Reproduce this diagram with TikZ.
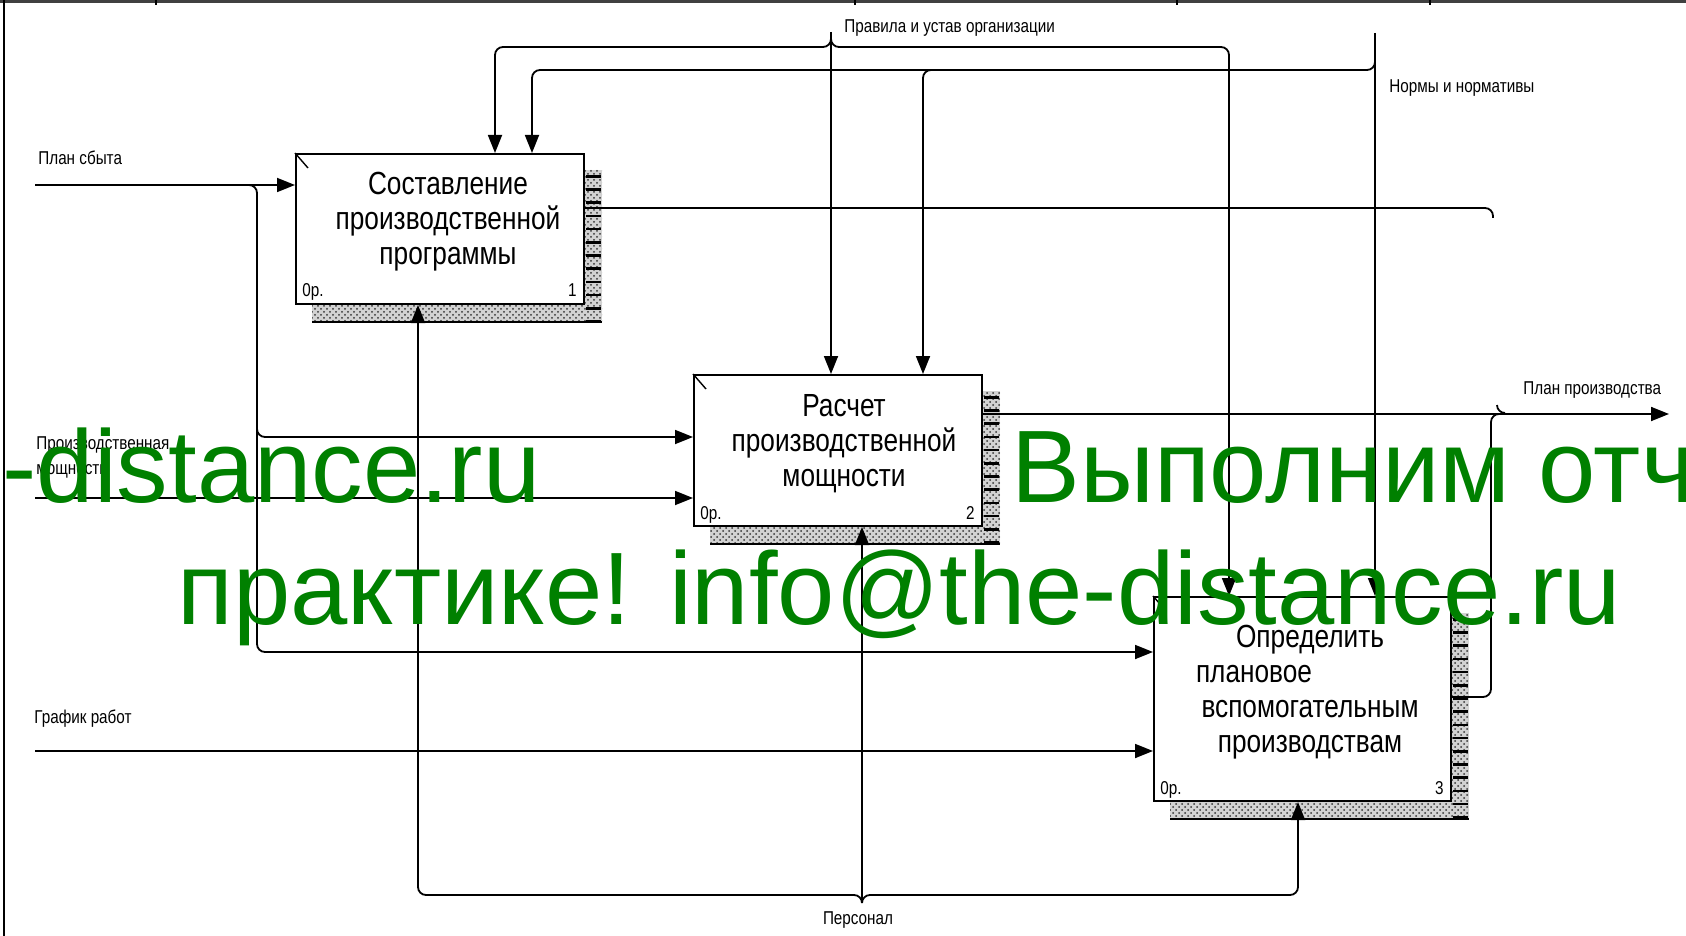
\documentclass[tikz,border=0pt]{standalone}
\usepackage{fontspec}
\setmainfont{Liberation Sans}[FakeStretch=0.82]
\newfontfamily\wmfont{Liberation Sans}
\usetikzlibrary{arrows.meta,calc,patterns}
\definecolor{wmgreen}{RGB}{0,128,0}
\tikzset{
  func/.style={draw, line width=1pt, fill=white, inner sep=0pt},
  boxtext/.style={align=center, font=\fontsize{16}{17.5}\selectfont},
  lbl/.style={font=\fontsize{9.3}{12.5}\selectfont, inner sep=0pt},
  arr/.style={line width=0.9pt, -{Triangle[length=9pt,width=7pt]}},
  link/.style={line width=0.9pt},
  rc/.style={rounded corners=4pt},
  hatch/.style={fill=gray!35, postaction={pattern=crosshatch dots, pattern color=gray!40!black}},
  wm/.style={font=\wmfont\fontsize{51.5}{51.5}\selectfont, text=wmgreen, inner sep=0pt}
}
\begin{document}
\begin{tikzpicture}[x=0.5pt, y=-0.5pt]
    \useasboundingbox (0,0) rectangle (1686,936);
    % Frame of the sheet
    \draw [line width=1.5pt, gray!50!black] (0,1.5) -- (1686,1.5);
    \foreach \x in {156,855,1177,1430}
      \draw [line width=0.7pt] (\x,0) -- (\x,5);
    \draw [line width=1pt] (4,0) -- (4,936);
    % Function boxes
    \node [func, minimum width=144pt, minimum height=75pt] (b1) at (440,229) {};
    \node [func, minimum width=144pt, minimum height=75.5pt] (b2) at (838,450.5) {};
    \node [func, minimum width=148.5pt, minimum height=102pt] (b3) at (1302.5,699) {};
    \node [boxtext] (t1) at ([xshift=4pt,yshift=3.5pt]b1.center) {Составление\\производственной\\программы};
    \node [boxtext] (t2) at ([xshift=3pt,yshift=3.5pt]b2.center) {Расчет\\производственной\\мощности};
    \node [boxtext] (t3) at ([xshift=3.75pt,yshift=3.5pt]b3.center) {Определить\\плановое\hspace*{56pt}\null\\вспомогательным\\производствам};
    % Shadows, corner marks and numbers
    \foreach \b/\n in {b1/1,b2/2,b3/3} {
      \fill [hatch] ($(\b.north east)+(0,17)$) rectangle ($(\b.south east)+(17,17)$);
      \fill [hatch] ($(\b.south west)+(17,0)$) rectangle ($(\b.south east)+(17,17)$);
      \draw [line width=7.5pt, dash pattern=on 1.3pt off 5.3pt] ($(\b.north east)+(8.5,22)$) -- ($(\b.south east)+(8.5,17)$);
      \draw [line width=1pt] ($(\b.south west)+(17,17)$) -- ($(\b.south east)+(17,17)$);
      \draw [line width=0.7pt] (\b.north west) -- ++(13,15);
      \node [lbl, anchor=base west] at ($(\b.south west)+(7,-8)$) {0р.};
      \node [lbl, anchor=base east] at ($(\b.south east)+(-8,-8)$) {\n};
    }
    % Inputs
    \coordinate (ps) at (35,185);
    \coordinate (psj) at (257,185);
    \coordinate (psb2) at (257,437);
    \coordinate (psb3) at (257,652);
    \draw [arr] (ps) -- (b1.west |- ps);
    \draw [arr, rc] ([xshift=-4.5pt]psj) -- (psj) -- (psb3) -- (b3.west |- psb3);
    \draw [arr, rc] ([yshift=6pt]psb2) -- (psb2) -- (b2.west |- psb2);
    \coordinate (pm) at (35,498);
    \draw [arr] (pm) -- (b2.west |- pm);
    \coordinate (gr) at (35,751);
    \draw [arr] (gr) -- (b3.west |- gr);
    % Controls
    \coordinate (pr) at (831,32);
    \coordinate (prf) at (831,47);
    \coordinate (prl) at (495,47);
    \coordinate (prr) at (1229,47);
    \draw [arr] (pr) -- (pr |- b2.north);
    \draw [arr, rc] ([yshift=4.5pt]prf) -- (prf) -| (prl |- b1.north);
    \draw [arr, rc] ([yshift=4.5pt]prf) -- (prf) -| (prr |- b3.north);
    \coordinate (nr) at (1375,33);
    \coordinate (nrf) at (1375,70);
    \coordinate (nl1) at (532,70);
    \coordinate (nl2) at (923,70);
    \draw [arr] (nr) -- (nr |- b3.north);
    \draw [arr, rc] ([yshift=6pt]nrf) -- (nrf) -| (nl1 |- b1.north);
    \draw [arr, rc] ([xshift=5pt]nl2) -- (nl2) -- (nl2 |- b2.north);
    % Mechanism
    \coordinate (pe) at (862,903);
    \coordinate (pef) at (862,895);
    \coordinate (pel) at (418,895);
    \coordinate (per) at (1298,895);
    \draw [arr] (pe) -- (pe |- b2.south);
    \draw [arr, rc] (pe) -- (pef) -| (pel |- b1.south);
    \draw [arr, rc] (pe) -- (pef) -| (per |- b3.south);
    % Outputs
    \coordinate (o1) at (1493,208);
    \draw [link, rc] (b1.east |- o1) -- (o1) -- ([yshift=-5pt]o1);
    \coordinate (pp) at (1669,414);
    \draw [arr] (b2.east |- pp) -- (pp);
    \coordinate (o3) at (1491,697);
    \coordinate (o3t) at (1491,414);
    \draw [link, rc] (b3.east |- o3) -- (o3) -- (o3t) -- ([xshift=8pt]o3t);
    \coordinate (cu) at (1497,405);
    \draw [link] (cu) arc [start angle=180, end angle=270, radius=4pt];
    % Arrow labels
    \node [lbl, anchor=west] (lps) at (38,158) {План сбыта};
    \node [lbl, anchor=west, align=left] (lpm) at (36,457) {Производственная\\мощность};
    \node [lbl, anchor=west] (lgr) at (34,719) {График работ};
    \node [lbl, anchor=west] (lpr) at (844,28) {Правила и устав организации};
    \node [lbl, anchor=west] (lnr) at (1389,88) {Нормы и нормативы};
    \node [lbl, anchor=west] (lpp) at (1523,390) {План производства};
    \node [lbl] (lpe) at (858,920) {Персонал};
    % Watermark
    \begin{scope}
      \clip (0,0) rectangle (1686,936);
      \node [wm, anchor=base east] (wm1) at (541,502) {-distance.ru};
      \node [wm, anchor=base west] (wm2) at (1011,502) {Выполним отчет};
      \node [wm, anchor=base west] (wm3) at (177,624) {практике! info@the-distance.ru};
    \end{scope}
\end{tikzpicture}
\end{document}
